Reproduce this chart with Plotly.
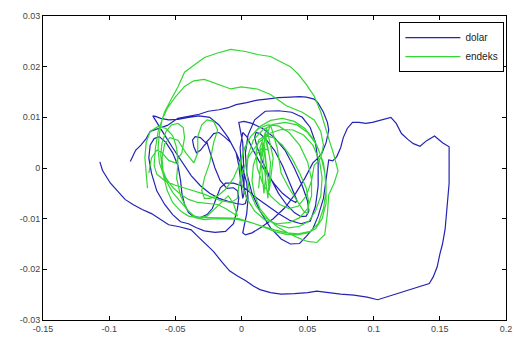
import plotly.graph_objects as go

# dolar (blue) trajectory
dolar_x = [-0.107, -0.105, -0.099, -0.094, -0.088, -0.082, -0.075, -0.068, -0.062, -0.055, -0.047, -0.038,
           -0.033, -0.027, -0.021, -0.015, -0.009, -0.003, 0.003, 0.009, 0.014, 0.022, 0.030, 0.040, 0.050,
           0.057, 0.065, 0.075, 0.085, 0.095, 0.103, 0.110, 0.118, 0.127, 0.135, 0.142, 0.145, 0.148, 0.150,
           0.152, 0.154, 0.155, 0.156, 0.157, 0.157, 0.157, 0.157, 0.152, 0.146, 0.140, 0.135, 0.130, 0.126,
           0.121, 0.117, 0.113, 0.106, 0.099, 0.094, 0.089, 0.084, 0.080, 0.077, 0.075, 0.072, 0.069, 0.066,
           # inner right loops
           0.064, 0.062, 0.058, 0.054, 0.049, 0.044, 0.037, 0.030, 0.022, 0.014, 0.008, 0.004, 0.003, 0.005,
           0.010, 0.018, 0.028, 0.038, 0.046, 0.052, 0.056, 0.058, 0.058, 0.056, 0.052, 0.045, 0.037, 0.028,
           0.020, 0.012, 0.005, 0.000,
           # left loops
           -0.006, -0.012, -0.016, -0.019, -0.022, -0.026, -0.031, -0.036, -0.040, -0.043, -0.045, -0.046,
           -0.048, -0.052, -0.057, -0.062, -0.066, -0.069, -0.070, -0.068, -0.064, -0.058, -0.052, -0.046,
           -0.040, -0.034, -0.028, -0.020, -0.012, -0.006, -0.003, -0.002, -0.003, -0.006, -0.011, -0.016,
           -0.020, -0.023, -0.025, -0.026, -0.028, -0.031, -0.034, -0.036, -0.037, -0.035, -0.031, -0.027,
           -0.024, -0.021, -0.017, -0.013, -0.008, -0.004, -0.002, -0.001, 0.000, 0.001, 0.002, 0.002, 0.001,
           -0.001, -0.002,
           # centre loops
           0.002, 0.008, 0.016, 0.025, 0.033, 0.040, 0.046, 0.050, 0.051, 0.049, 0.045, 0.040, 0.034, 0.028,
           0.022, 0.016, 0.012, 0.010, 0.011, 0.014, 0.019, 0.025, 0.031, 0.036, 0.040, 0.042, 0.041, 0.037,
           0.031, 0.025, 0.019, 0.013, 0.008, 0.004, 0.001, -0.001, 0.000, 0.002, 0.004, 0.003, 0.001,
           # wide loop to the left
           -0.004, -0.010, -0.017, -0.024, -0.031, -0.038, -0.045, -0.052, -0.058, -0.063, -0.066, -0.067,
           -0.065, -0.061, -0.055, -0.048, -0.040, -0.032, -0.024, -0.017, -0.010, -0.004, 0.001, 0.004,
           0.005, 0.004, 0.002, 0.001, 0.003, 0.008, 0.015, 0.024, 0.033, 0.041, 0.048, 0.054, 0.058, 0.061,
           0.064, 0.066,
           # outer top arc back to end
           0.065, 0.062, 0.058, 0.055, 0.049, 0.044, 0.037, 0.028, 0.019, 0.012, 0.004, -0.004, -0.010,
           -0.017, -0.025, -0.032, -0.040, -0.048, -0.056, -0.063, -0.069, -0.072, -0.076, -0.080, -0.084,
           -0.087, -0.089, -0.090]
dolar_y = [0.0012, -0.0005, -0.0030, -0.0045, -0.0062, -0.0072, -0.0082, -0.0090, -0.0100, -0.0112, -0.0116,
           -0.0122, -0.0135, -0.0150, -0.0165, -0.0185, -0.0203, -0.0213, -0.0222, -0.0233, -0.0240, -0.0246,
           -0.0249, -0.0248, -0.0246, -0.0243, -0.0246, -0.0249, -0.0251, -0.0255, -0.0260, -0.0254, -0.0248,
           -0.0240, -0.0233, -0.0228, -0.0215, -0.0195, -0.0170, -0.0150, -0.0120, -0.0090, -0.0060, -0.0030,
           0.0000, 0.0030, 0.0042, 0.0050, 0.0063, 0.0054, 0.0043, 0.0048, 0.0056, 0.0068, 0.0088, 0.0100,
           0.0095, 0.0090, 0.0088, 0.0090, 0.0090, 0.0078, 0.0060, 0.0040, 0.0022, 0.0014, 0.0016,
           -0.0020, -0.0060, -0.0095, -0.0120, -0.0135, -0.0149, -0.0150, -0.0140, -0.0118, -0.0085, -0.0050,
           -0.0010, 0.0030, 0.0065, 0.0095, 0.0112, 0.0113, 0.0110, 0.0100, 0.0080, 0.0050, 0.0010, -0.0035,
           -0.0075, -0.0105, -0.0110, -0.0104, -0.0090, -0.0075, -0.0060, -0.0045, -0.0035,
           -0.0030, -0.0030, -0.0039, -0.0060, -0.0080, -0.0092, -0.0098, -0.0096, -0.0088, -0.0072, -0.0050,
           -0.0025, 0.0005, 0.0030, 0.0050, 0.0062, 0.0058, 0.0045, 0.0020, -0.0010, -0.0045, -0.0072,
           -0.0092, -0.0106, -0.0110, -0.0118, -0.0124, -0.0127, -0.0125, -0.0110, -0.0080, -0.0059, -0.0045,
           -0.0039, -0.0040, -0.0025, 0.0000, 0.0025, 0.0042, 0.0050, 0.0045, 0.0035, 0.0030, 0.0042, 0.0055,
           0.0062, 0.0060, 0.0050, 0.0058, 0.0068, 0.0070, 0.0062, 0.0050, 0.0030, 0.0005, -0.0020, -0.0045,
           -0.0060, -0.0050, -0.0020,
           0.0050, 0.0080, 0.0090, 0.0092, 0.0088, 0.0078, 0.0060, 0.0035, 0.0000, -0.0035, -0.0065, -0.0085,
           -0.0095, -0.0096, -0.0088, -0.0072, -0.0050, -0.0020, 0.0012, 0.0040, 0.0060, 0.0070, 0.0068,
           0.0055, 0.0035, 0.0005, -0.0025, -0.0050, -0.0064, -0.0068, -0.0062, -0.0050, -0.0032, -0.0010,
           0.0015, 0.0040, 0.0062, 0.0070, 0.0040, 0.0000, -0.0040,
           -0.0060, -0.0070, -0.0072, -0.0070, -0.0066, -0.0060, -0.0050, -0.0035, -0.0015, 0.0012, 0.0040,
           0.0065, 0.0085, 0.0098, 0.0103, 0.0102, 0.0098, 0.0095, 0.0096, 0.0100, 0.0103, 0.0100, 0.0085,
           0.0060, 0.0030, 0.0000, -0.0030, -0.0060, -0.0090, -0.0115, -0.0128, -0.0132, -0.0128, -0.0117,
           -0.0100, -0.0078, -0.0050, -0.0020, 0.0010, 0.0020,
           0.0030, 0.0050, 0.0075, 0.0090, 0.0110, 0.0128, 0.0136, 0.0140, 0.0141, 0.0140, 0.0139, 0.0136,
           0.0134, 0.0129, 0.0125, 0.0119, 0.0115, 0.0112, 0.0106, 0.0102, 0.0098, 0.0084, 0.0078, 0.0072,
           0.0058, 0.0045, 0.0035, 0.0013]

# endeks (green) trajectory
endeks_x = [-0.071, -0.072, -0.073, -0.072, -0.069, -0.063, -0.057, -0.052, -0.049, -0.048, -0.049, -0.046,
            -0.041, -0.035, -0.028, -0.020, -0.012, -0.005, 0.002, 0.010, 0.018, 0.026, 0.034, 0.042, 0.050,
            0.056, 0.061, 0.064, 0.064, 0.062, 0.057, 0.050, 0.042, 0.033, 0.024, 0.016, 0.009, 0.005, 0.004,
            0.006, 0.011, 0.018, 0.027, 0.036, 0.044, 0.051, 0.056, 0.060, 0.061, 0.059, 0.054, 0.047, 0.039,
            0.030, 0.021, 0.013, 0.006, 0.001, -0.002, -0.003,
            # first tall arc
            -0.008, -0.015, -0.022, -0.030, -0.040, -0.050, -0.058, -0.064, -0.066, -0.065, -0.063, -0.058,
            -0.053, -0.048, -0.043, -0.035, -0.028, -0.018, -0.008, 0.003, 0.012, 0.022, 0.030, 0.037, 0.043,
            0.049, 0.055, 0.060, 0.066, 0.070, 0.073, 0.070, 0.066, 0.065, 0.063, 0.057, 0.050, 0.043, 0.035,
            0.027, 0.020, 0.014, 0.010, 0.008, 0.009, 0.012, 0.016, 0.020,
            # spiky cluster
            0.018, 0.015, 0.013, 0.016, 0.019, 0.017, 0.014, 0.018, 0.022, 0.020, 0.016, 0.019, 0.024, 0.021,
            0.017, 0.022, 0.027, 0.030,
            # middle loops
            0.036, 0.042, 0.047, 0.050, 0.051, 0.049, 0.044, 0.038, 0.031, 0.024, 0.018, 0.013, 0.011, 0.012,
            0.016, 0.022, 0.029, 0.036, 0.043, 0.049, 0.053, 0.055,
            # second arc
            0.060, 0.062, 0.060, 0.055, 0.046, 0.034, 0.022, 0.012, 0.000, -0.008, -0.018, -0.028, -0.036,
            -0.043, -0.050, -0.056, -0.060, -0.062, -0.063, -0.062, -0.058, -0.052, -0.045, -0.040, -0.036,
            -0.033, -0.025, -0.018, -0.012, -0.006, -0.002, 0.002, 0.008, 0.016, 0.025, 0.034, 0.043, 0.052,
            0.058, 0.062, 0.064, 0.063, 0.060, 0.055, 0.048, 0.040, 0.031, 0.022, 0.014, 0.007, 0.002, -0.001,
            0.000, 0.004, 0.010, 0.018, 0.027, 0.036, 0.044, 0.050, 0.053, 0.053, 0.050, 0.044, 0.036, 0.028,
            0.020, 0.013, 0.007, 0.002, -0.001,
            # left loops and triangle
            -0.006, -0.012, -0.018, -0.024, -0.028, -0.030, -0.028, -0.024, -0.021, -0.018, -0.021, -0.026,
            -0.030, -0.033, -0.033, -0.036, -0.042, -0.048, -0.054, -0.058, -0.060, -0.059, -0.056, -0.052,
            -0.046, -0.040, -0.033, -0.026, -0.020, -0.014, -0.010, -0.006, -0.003, -0.006, -0.012, -0.018,
            -0.025, -0.033, -0.040, -0.046, -0.052, -0.057, -0.060, -0.061, -0.060, -0.057, -0.053, -0.048,
            -0.044, -0.043, -0.045, -0.050, -0.055, -0.060, -0.064, -0.068, -0.070]
endeks_y = [-0.0040, -0.0010, 0.0020, 0.0050, 0.0072, 0.0082, 0.0078, 0.0064, 0.0040, 0.0010, -0.0020,
            -0.0055, -0.0082, -0.0098, -0.0102, -0.0100, -0.0100, -0.0101, -0.0104, -0.0110, -0.0118, -0.0126,
            -0.0131, -0.0132, -0.0128, -0.0120, -0.0100, -0.0070, -0.0030, 0.0010, 0.0045, 0.0070, 0.0085,
            0.0090, 0.0086, 0.0075, 0.0055, 0.0025, -0.0010, -0.0045, -0.0075, -0.0098, -0.0112, -0.0118,
            -0.0115, -0.0105, -0.0085, -0.0055, -0.0020, 0.0015, 0.0045, 0.0065, 0.0075, 0.0076, 0.0068, 0.0050,
            0.0025, -0.0005, -0.0035, -0.0060,
            -0.0068, -0.0065, -0.0058, -0.0050, -0.0042, -0.0034, -0.0025, -0.0012, 0.0005, 0.0039, 0.0072,
            0.0111, 0.0136, 0.0160, 0.0189, 0.0205, 0.0218, 0.0227, 0.0234, 0.0230, 0.0224, 0.0220, 0.0210,
            0.0200, 0.0185, 0.0165, 0.0142, 0.0110, 0.0058, 0.0025, -0.0006, -0.0030, -0.0053, -0.0090,
            -0.0131, -0.0147, -0.0145, -0.0138, -0.0128, -0.0116, -0.0100, -0.0080, -0.0055, -0.0025, 0.0005,
            0.0030, 0.0040, 0.0035,
            0.0060, 0.0020, -0.0040, 0.0050, 0.0000, -0.0050, 0.0040, 0.0070, 0.0010, -0.0060, 0.0030, 0.0080,
            0.0020, -0.0045, 0.0050, 0.0085, 0.0040, -0.0010,
            -0.0040, -0.0065, -0.0085, -0.0090, -0.0070, -0.0040, -0.0010, 0.0020, 0.0045, 0.0060, 0.0064,
            0.0055, 0.0030, 0.0000, -0.0030, -0.0055, -0.0072, -0.0080, -0.0075, -0.0055, -0.0025, 0.0005,
            0.0020, 0.0045, 0.0072, 0.0095, 0.0110, 0.0123, 0.0145, 0.0156, 0.0160, 0.0156, 0.0165, 0.0175,
            0.0172, 0.0161, 0.0140, 0.0118, 0.0095, 0.0068, 0.0040, 0.0010, -0.0020, -0.0048, -0.0070, -0.0085,
            -0.0094, -0.0098, -0.0098, -0.0098, -0.0098, -0.0099, -0.0100, -0.0103, -0.0108, -0.0115, -0.0122,
            -0.0128, -0.0130, -0.0125, -0.0110, -0.0080, -0.0045, -0.0010, 0.0025, 0.0055, 0.0078, 0.0092,
            0.0098, 0.0094, 0.0082, 0.0062, 0.0035, 0.0005, -0.0030, -0.0060, -0.0085, -0.0103, -0.0110,
            -0.0108, -0.0098, -0.0080, -0.0055, -0.0022, 0.0012, 0.0045, 0.0070, 0.0083, 0.0085, 0.0078,
            0.0062, 0.0038, 0.0010,
            -0.0020, -0.0042, -0.0055, -0.0060, -0.0060, -0.0045, -0.0020, 0.0010, 0.0050, 0.0075, 0.0092,
            0.0095, 0.0085, 0.0062, 0.0030, 0.0010, 0.0030, 0.0055, 0.0060, 0.0048, 0.0020, -0.0015, -0.0045,
            -0.0068, -0.0085, -0.0095, -0.0098, -0.0095, -0.0080, -0.0065, -0.0055, -0.0070, -0.0095, -0.0090,
            -0.0080, -0.0072, -0.0070, -0.0068, -0.0062, -0.0052, -0.0038, -0.0020, 0.0000, 0.0025, 0.0050,
            0.0072, 0.0085, 0.0088, 0.0080, 0.0060, 0.0030, 0.0010, 0.0015, 0.0030, 0.0035, 0.0020, -0.0010,
            -0.0035, -0.0050]

x_ticks = [-0.15, -0.1, -0.05, 0, 0.05, 0.1, 0.15, 0.2]
x_labels = ["-0.15", "-0.1", "-0.05", "0", "0.05", "0.1", "0.15", "0.2"]
y_ticks = [-0.03, -0.02, -0.01, 0, 0.01, 0.02, 0.03]
y_labels = ["-0.03", "-0.02", "-0.01", "0", "0.01", "0.02", "0.03"]

fig = go.Figure()
fig.add_trace(go.Scatter(x=dolar_x, y=dolar_y, mode="lines", name="dolar",
                         line=dict(color="#2323b4", width=1.2)))
fig.add_trace(go.Scatter(x=endeks_x, y=endeks_y, mode="lines", name="endeks",
                         line=dict(color="#33d633", width=1.2)))

axis_common = dict(showline=True, linecolor="black", linewidth=1, mirror="ticks", ticks="inside",
                   ticklen=4, tickcolor="black", showgrid=False, zeroline=False,
                   tickfont=dict(family="Liberation Sans, Arial", size=9, color="#444444"))
fig.update_layout(
    width=521, height=343,
    margin=dict(l=43, r=9, t=16, b=20),
    paper_bgcolor="white", plot_bgcolor="white",
    xaxis=dict(range=[-0.15, 0.2], tickvals=x_ticks, ticktext=x_labels, **axis_common),
    yaxis=dict(range=[-0.03, 0.03], tickvals=y_ticks, ticktext=y_labels, **axis_common),
    legend=dict(x=0.9965, y=0.98, xanchor="right", yanchor="top", bordercolor="black", borderwidth=1,
                bgcolor="white", font=dict(family="Liberation Sans, Arial", size=10, color="#222222"),
                itemwidth=55, tracegroupgap=0),
    showlegend=True,
)
fig.write_html("out.html")
